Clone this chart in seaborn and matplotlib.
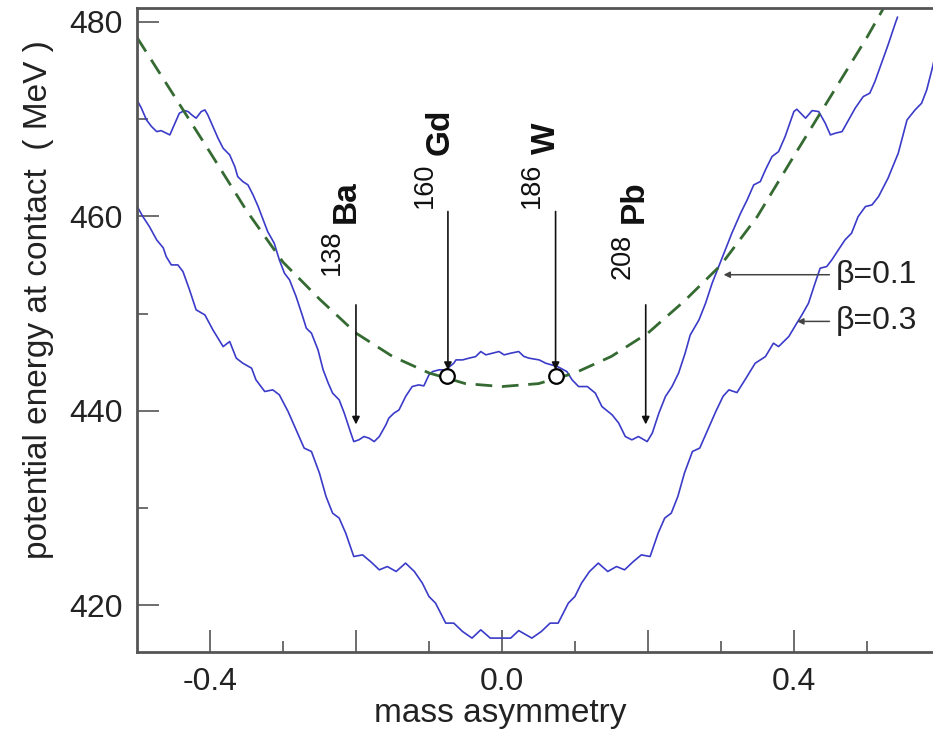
import matplotlib
matplotlib.use("Agg")
import matplotlib.pyplot as plt
import seaborn as sns
import pandas as pd

# ---------------- data ----------------
beta01_x = [-0.501, -0.494, -0.487, -0.480, -0.473, -0.467, -0.460, -0.455, -0.448, -0.442,
            -0.435, -0.430, -0.425, -0.419, -0.412, -0.407, -0.403, -0.396, -0.389, -0.382,
            -0.373, -0.366, -0.362, -0.355, -0.348, -0.341, -0.334, -0.327, -0.321, -0.312,
            -0.305, -0.298, -0.291, -0.282, -0.273, -0.268, -0.261, -0.252, -0.245, -0.238,
            -0.232, -0.223, -0.216, -0.207, -0.203, -0.196, -0.189, -0.182, -0.175, -0.168,
            -0.159, -0.155, -0.148, -0.141, -0.132, -0.123, -0.114, -0.107, -0.100, -0.095,
            -0.086, -0.077, -0.066, -0.063, -0.054, -0.045, -0.036, -0.029, -0.022, -0.013,
            -0.004, 0.003, 0.012, 0.023, 0.030, 0.037, 0.051, 0.060, 0.076, 0.089,
            0.096, 0.105, 0.117, 0.128, 0.137, 0.151, 0.160, 0.169, 0.178, 0.187,
            0.199, 0.206, 0.215, 0.224, 0.233, 0.242, 0.251, 0.258, 0.270, 0.279,
            0.288, 0.297, 0.306, 0.315, 0.327, 0.336, 0.345, 0.354, 0.361, 0.370,
            0.379, 0.388, 0.400, 0.404, 0.416, 0.425, 0.434, 0.443, 0.450, 0.457,
            0.466, 0.475, 0.484, 0.495, 0.504, 0.511, 0.520, 0.529, 0.539, 0.542]
beta01_y = [472.11, 471.13, 469.92, 469.23, 468.72, 468.82, 468.56, 468.38, 469.58, 470.61,
            470.88, 470.78, 470.44, 470.10, 470.78, 470.95, 470.44, 469.23, 468.04, 467.01,
            466.32, 465.12, 464.09, 463.58, 463.24, 462.21, 461.01, 459.64, 458.44, 457.24,
            455.53, 454.16, 453.47, 451.75, 449.70, 448.50, 447.99, 446.27, 444.22, 442.85,
            441.82, 441.13, 439.76, 437.71, 436.84, 437.02, 437.36, 437.19, 436.84, 437.36,
            438.56, 439.25, 439.76, 440.10, 441.47, 442.50, 442.67, 442.57, 443.70, 444.04,
            444.22, 444.22, 444.90, 445.24, 445.24, 445.42, 445.58, 446.10, 445.76, 445.93,
            446.10, 445.76, 445.93, 446.10, 445.60, 445.42, 445.24, 444.90, 444.56, 444.04,
            443.20, 442.50, 442.50, 441.82, 440.44, 439.59, 438.74, 437.36, 437.02, 437.36,
            436.84, 437.71, 439.76, 441.47, 442.50, 443.88, 445.93, 447.81, 449.36, 451.07,
            453.13, 454.84, 456.56, 458.27, 460.33, 461.70, 463.24, 463.58, 464.78, 466.15,
            466.66, 468.21, 470.78, 471.02, 470.10, 470.88, 470.78, 469.58, 468.38, 468.56,
            468.72, 469.92, 471.13, 472.32, 472.67, 473.86, 475.75, 477.63, 479.87, 480.50]

beta03_x = [-0.501, -0.492, -0.483, -0.473, -0.464, -0.460, -0.453, -0.444, -0.437, -0.428,
            -0.419, -0.407, -0.396, -0.382, -0.373, -0.364, -0.355, -0.343, -0.337, -0.325,
            -0.314, -0.305, -0.293, -0.282, -0.271, -0.261, -0.250, -0.241, -0.232, -0.223,
            -0.214, -0.203, -0.191, -0.180, -0.168, -0.157, -0.145, -0.132, -0.120, -0.109,
            -0.100, -0.091, -0.077, -0.066, -0.054, -0.041, -0.029, -0.016, -0.002, 0.012,
            0.023, 0.041, 0.054, 0.066, 0.077, 0.091, 0.100, 0.109, 0.120, 0.132,
            0.145, 0.157, 0.168, 0.180, 0.191, 0.203, 0.214, 0.223, 0.232, 0.241,
            0.250, 0.261, 0.271, 0.282, 0.293, 0.303, 0.311, 0.322, 0.333, 0.347,
            0.361, 0.372, 0.379, 0.393, 0.404, 0.411, 0.420, 0.429, 0.436, 0.445,
            0.452, 0.461, 0.470, 0.479, 0.488, 0.498, 0.507, 0.516, 0.529, 0.543,
            0.555, 0.566, 0.575, 0.582, 0.589, 0.595]
beta03_y = [461.18, 459.98, 458.95, 457.58, 456.76, 455.87, 455.01, 455.01, 454.32, 452.44,
            450.39, 449.87, 448.33, 446.61, 447.13, 445.42, 444.90, 444.39, 443.19, 441.99,
            442.16, 441.65, 439.93, 438.05, 436.17, 435.82, 433.59, 431.19, 429.48, 428.97,
            427.42, 425.02, 425.19, 424.50, 423.65, 423.99, 423.48, 424.34, 423.48, 422.28,
            420.91, 420.23, 418.17, 418.17, 417.31, 416.63, 417.48, 416.63, 416.63, 416.63,
            417.40, 416.63, 417.31, 418.17, 418.17, 420.23, 420.91, 422.28, 423.48, 424.34,
            423.48, 423.99, 423.65, 424.50, 425.19, 425.02, 427.42, 428.97, 429.48, 431.19,
            433.59, 435.82, 436.17, 438.05, 439.93, 441.50, 442.16, 441.88, 443.19, 444.90,
            445.58, 446.96, 446.61, 447.64, 449.02, 449.87, 451.07, 453.13, 454.67, 454.84,
            455.53, 456.56, 457.58, 458.27, 459.98, 461.01, 461.18, 462.04, 463.93, 466.50,
            469.92, 470.95, 471.64, 473.01, 475.06, 477.00]

ldm_x = [-0.50, -0.45, -0.40, -0.35, -0.30, -0.25, -0.20, -0.15, -0.10, -0.05, 0.00,
         0.05, 0.10, 0.15, 0.20, 0.25, 0.30, 0.35, 0.40, 0.45, 0.50, 0.55]
ldm_y = [478.4, 472.5, 466.6, 460.6, 455.3, 451.5, 448.0, 445.6, 443.9, 442.8, 442.5,
         442.8, 443.9, 445.6, 448.0, 451.3, 455.0, 460.0, 466.2, 472.3, 478.4, 485.0]

circle_x = [-0.075, 0.0735]
circle_y = [443.55, 443.6]

# element labels: mass number, symbol, arrow x, arrow top, arrow tip
elem_mass = ["138", "160", "186", "208"]
elem_sym = ["Ba", "Gd", "W", "Pb"]
elem_arrow_x = [-0.200, -0.074, 0.0735, 0.197]
elem_arrow_top = [450.9, 460.5, 460.5, 450.9]
elem_arrow_tip = [438.6, 444.2, 444.2, 438.6]

beta_labels = ["\u03b2=0.1", "\u03b2=0.3"]
beta_arrow_tip_x = [0.3037, 0.4045]
beta_arrow_y = [454.0, 449.2]

x_major = [-0.4, -0.2, 0.0, 0.2, 0.4]
x_major_labels = ["-0.4", "", "0.0", "", "0.4"]
x_minor = [-0.3, -0.1, 0.1, 0.3, 0.5]
y_major = [420, 440, 460, 480]
y_minor = [430, 450, 470]

# ---------------- figure ----------------
sns.set_style("ticks")
plt.rcParams['font.family'] = ['Liberation Sans', 'DejaVu Sans']

W, H = 933, 734
fig = plt.figure(figsize=(W / 100, H / 100), dpi=100)
left_px, right_px, top_px, bot_px = 137, 933, 8.3, 652
ax = fig.add_axes([left_px / W, 1 - bot_px / H, (right_px - left_px) / W, (bot_px - top_px) / H])

blue = "#3b3bc9"
green = "#356b32"

df1 = pd.DataFrame({"x": beta01_x, "y": beta01_y})
df3 = pd.DataFrame({"x": beta03_x, "y": beta03_y})
dfl = pd.DataFrame({"x": ldm_x, "y": ldm_y})

sns.lineplot(data=df1, x="x", y="y", ax=ax, color=blue, lw=1.2, sort=False, estimator=None)
sns.lineplot(data=df3, x="x", y="y", ax=ax, color=blue, lw=1.2, sort=False, estimator=None)
sns.lineplot(data=dfl, x="x", y="y", ax=ax, color=green, lw=2.0, sort=False, estimator=None,
             dashes=False, linestyle=(0, (6, 3.5)))

for i in range(len(elem_sym)):
    ax.annotate("", xy=(elem_arrow_x[i], elem_arrow_tip[i]), xytext=(elem_arrow_x[i], elem_arrow_top[i]),
                arrowprops=dict(arrowstyle="-|>", color="#111111", lw=1.2, mutation_scale=11,
                                shrinkA=0, shrinkB=0), zorder=4)

sns.scatterplot(x=circle_x, y=circle_y, ax=ax, s=110, color="white", edgecolor="black",
                linewidth=1.6, zorder=6)

# element texts (rotated)
mass_pos = [(-0.2326, 456.3), (-0.1053, 463.2), (0.0404, 463.2), (0.1655, 455.9)]
sym_pos = [(-0.2127, 461.5), (-0.0848, 468.7), (0.0609, 468.0), (0.1819, 461.5)]
for i in range(len(elem_sym)):
    ax.text(mass_pos[i][0], mass_pos[i][1], elem_mass[i], rotation=90, ha="center", va="center",
            fontsize=19.5, color="#111111")
    ax.text(sym_pos[i][0], sym_pos[i][1], elem_sym[i], rotation=90, ha="center", va="center",
            fontsize=24, fontweight="bold", color="#111111")

# beta labels
for i in range(2):
    ax.annotate(beta_labels[i], xy=(beta_arrow_tip_x[i], beta_arrow_y[i]),
                xytext=(0.457, beta_arrow_y[i]), ha="left", va="center", fontsize=23, color="#222222",
                arrowprops=dict(arrowstyle="-|>", color="#444444", lw=1.1, mutation_scale=9,
                                shrinkA=2, shrinkB=0))

ax.set_xlim(-0.5, 0.5906)
ax.set_ylim(415.2, 481.4)
ax.set_xticks(x_major)
ax.set_xticklabels(x_major_labels)
ax.set_xticks(x_minor, minor=True)
ax.set_yticks(y_major)
ax.set_yticks(y_minor, minor=True)
ax.tick_params(which="both", direction="in", color="#555555", width=1.2,
               bottom=True, left=True, top=False, right=False)
ax.tick_params(which="major", length=16, labelsize=23, labelcolor="#222222")
ax.tick_params(which="minor", length=8)
ax.tick_params(axis="x", which="major", pad=11)
ax.tick_params(axis="y", which="major", pad=10)

for s in ["left", "bottom", "top"]:
    ax.spines[s].set_visible(True)
    ax.spines[s].set_color("#555555")
    ax.spines[s].set_linewidth(2)
ax.spines["right"].set_visible(False)

ax.set_xlabel("mass asymmetry", fontsize=24, color="#222222")
ax.set_ylabel("potential energy at contact  ( MeV )", fontsize=24, color="#222222")
ax.xaxis.set_label_coords((500 - left_px) / (right_px - left_px), -(698 - bot_px) / (bot_px - top_px))
ax.yaxis.set_label_coords(-(left_px - 54) / (right_px - left_px), (bot_px - 300) / (bot_px - top_px))

fig.savefig("out.png", dpi=100)
